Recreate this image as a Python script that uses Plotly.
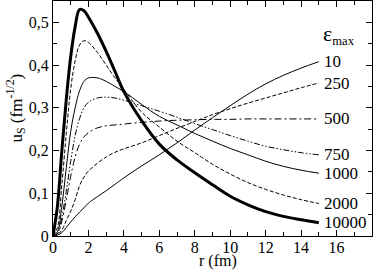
import plotly.graph_objects as go

r = [0, 0.25, 0.5, 0.75, 1.0, 1.25, 1.5, 1.75, 2.0, 2.5, 3.0, 3.5, 4.0,
     5.0, 6.0, 7.0, 8.0, 9.0, 10.0, 11.0, 12.0, 13.0, 14.0, 15.0]

u_10 = [0, .002, .008, .02, .033, .045, .056, .066, .077, .092, .106, .121, .136,
        .164, .190, .218, .248, .277, .305, .332, .356, .376, .393, .408]
u_250 = [0, .003, .014, .036, .058, .085, .118, .138, .152, .170, .185, .196, .204,
         .218, .235, .252, .268, .284, .298, .311, .323, .335, .347, .358]
u_500 = [0, .005, .035, .085, .14, .185, .215, .232, .242, .253, .258, .260, .262,
         .266, .269, .271, .272, .273, .273, .274, .274, .274, .274, .274]
u_750 = [0, .006, .045, .105, .175, .235, .275, .300, .313, .323, .325, .323, .318,
         .305, .292, .278, .263, .249, .235, .222, .210, .202, .195, .190]
u_1000 = [0, .01, .07, .16, .245, .30, .34, .362, .370, .370, .362, .350, .338,
          .308, .280, .260, .240, .222, .205, .190, .175, .163, .154, .147]
u_2000 = [0, .02, .12, .24, .345, .41, .447, .457, .453, .430, .400, .370, .343,
          .290, .255, .222, .195, .168, .145, .125, .109, .096, .085, .076]
u_10000 = [0, .07, .20, .32, .42, .49, .530, .527, .512, .475, .432, .385, .338,
           .270, .215, .178, .148, .120, .093, .073, .057, .046, .038, .031]

labels = ["10", "250", "500", "750", "1000", "2000", "10000"]
series = [u_10, u_250, u_500, u_750, u_1000, u_2000, u_10000]
styles = [
    dict(width=1, dash="solid"),
    dict(width=1, dash="4px,2px"),
    dict(width=1, dash="7px,3px,2px,3px"),
    dict(width=1, dash="6px,2px,1.5px,2px,1.5px,2px"),
    dict(width=1, dash="solid"),
    dict(width=1, dash="4px,2px"),
    dict(width=3, dash="solid"),
]

FONT = "Liberation Serif"

fig = go.Figure()
for lab, ys, st in zip(labels, series, styles):
    fig.add_trace(go.Scatter(x=r, y=ys, mode="lines", name=lab,
                             line=dict(color="black", shape="spline", **st),
                             showlegend=False))

annots = []
for lab, ys in zip(labels, series):
    annots.append(dict(x=r[-1], y=ys[-1], xref="x", yref="y", text=lab,
                       showarrow=False, xanchor="left", yanchor="middle",
                       xshift=3, font=dict(family=FONT, size=17, color="black")))
annots.append(dict(x=r[-1], y=0.472, xref="x", yref="y",
                   text='<span style="font-size:22px">ε</span><sub>max</sub>',
                   showarrow=False, xanchor="left", yanchor="middle", xshift=2,
                   font=dict(family=FONT, size=18, color="black")))
# axis titles
annots.append(dict(x=0.5, y=0, xref="paper", yref="paper", text="r (fm)",
                   showarrow=False, xanchor="center", yanchor="middle",
                   xshift=5, yshift=-25,
                   font=dict(family=FONT, size=16, color="black")))
annots.append(dict(x=0, y=0.5, xref="paper", yref="paper",
                   text="u<sub>S</sub> (fm<sup>-1/2</sup>)", textangle=-90,
                   showarrow=False, xanchor="center", yanchor="middle",
                   xshift=-37, yshift=10,
                   font=dict(family=FONT, size=17, color="black")))

axis_common = dict(showline=True, linecolor="black", linewidth=1, mirror="allticks",
                   ticks="inside", ticklen=6, tickcolor="black", showgrid=False,
                   zeroline=False, automargin=False,
                   tickfont=dict(family=FONT, size=16, color="black"))

fig.update_layout(
    width=374, height=270,
    margin=dict(l=53, r=2, t=1, b=34),
    paper_bgcolor="white", plot_bgcolor="white",
    font=dict(family=FONT, color="black"),
    separators=", ",
    annotations=annots,
    xaxis=dict(range=[0, 18], tickvals=[0, 2, 4, 6, 8, 10, 12, 14, 16],
               ticklabelstandoff=-3,
               minor=dict(ticks="inside", dtick=1, ticklen=4, tickcolor="black"),
               **axis_common),
    yaxis=dict(range=[0, 0.55], tickvals=[0, 0.1, 0.2, 0.3, 0.4, 0.5],
               ticktext=["0", "0,1", "0,2", "0,3", "0,4", "0,5"],
               minor=dict(ticks="inside", dtick=0.05, ticklen=4, tickcolor="black"),
               **axis_common),
)

fig.write_html("out.html", config={"displayModeBar": False},
               post_script="document.body.style.margin='0';document.body.style.overflow='hidden';")
